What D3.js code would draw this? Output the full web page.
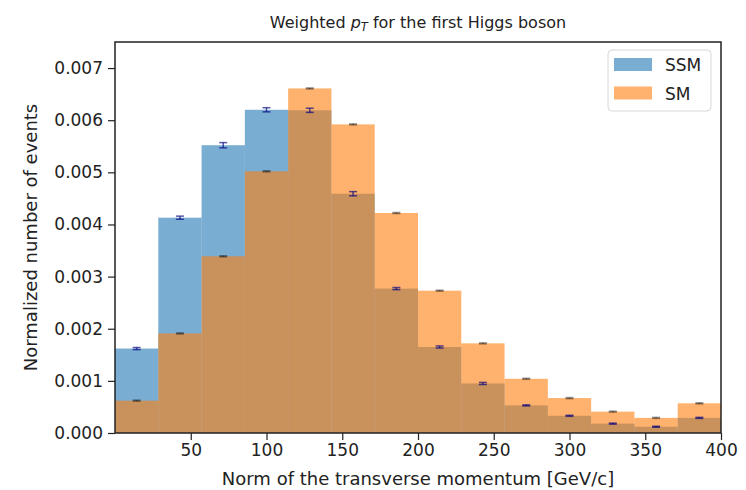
<!DOCTYPE html>
<html>
<head>
<meta charset="utf-8">
<script src="https://cdn.jsdelivr.net/npm/d3@7"></script>
<style>
  body { margin: 0; background: #fff; }
  svg text { font-family: "DejaVu Sans", sans-serif; fill: #222; }
</style>
</head>
<body>
<div></div>
<script>
// 14 bins between 0 and 400
var binEdges = d3.range(15).map(function (i) { return i * 400 / 14; });

var ssmValues = [0.00162, 0.00413, 0.00552, 0.00620, 0.00619, 0.00459, 0.00277,
                 0.00165, 0.00095, 0.00053, 0.00033, 0.00018, 0.00012, 0.00029];
var ssmErrors = [0.00002, 0.00003, 0.00005, 0.00004, 0.00004, 0.00004, 0.00002,
                 0.00002, 0.00002, 0.00001, 0.00001, 0.00001, 0.00001, 0.00001];

var smValues = [0.00062, 0.00191, 0.00339, 0.00502, 0.00661, 0.00592, 0.00422,
                0.00273, 0.00172, 0.00104, 0.00067, 0.00041, 0.00029, 0.00057];
var smErrors = [0.00001, 0.00001, 0.00001, 0.00001, 0.00001, 0.00001, 0.00001,
                0.00001, 0.00001, 0.00001, 0.00001, 0.00001, 0.00001, 0.00001];

var xTicks = [50, 100, 150, 200, 250, 300, 350, 400];
var yTicks = [0, 0.001, 0.002, 0.003, 0.004, 0.005, 0.006, 0.007];

var width = 746, height = 490,
	margin = {left: 115, right: 25, top: 42, bottom: 57};

var svgContainer = d3.select("div")
	.append("svg")
	.attr("width", width)
	.attr("height", height);

var x = d3.scaleLinear().domain([0, 400]).range([margin.left, width - margin.right]);
var y = d3.scaleLinear().domain([0, 0.0075]).range([height - margin.bottom, margin.top]);

function drawHist(values, color) {
	svgContainer.append("g")
	.selectAll("rect")
	.data(values)
	.enter()
	.append("rect")
	.attr("x", function (d, i) { return x(binEdges[i]); })
	.attr("width", function (d, i) { return x(binEdges[i + 1]) - x(binEdges[i]); })
	.attr("y", function (d) { return y(d); })
	.attr("height", function (d) { return y(0) - y(d); })
	.attr("fill", color)
	.attr("fill-opacity", 0.6);
}

function drawErrors(values, errors, color, opacity) {
	var g = svgContainer.append("g")
	.attr("stroke", color)
	.attr("stroke-opacity", opacity)
	.attr("stroke-width", 1.5);
	values.forEach(function (v, i) {
		var cx = x((binEdges[i] + binEdges[i + 1]) / 2),
			top = y(v + errors[i]),
			bottom = y(v - errors[i]);
		var e = g.append("g");
		e.append("line").attr("x1", cx).attr("x2", cx).attr("y1", top).attr("y2", bottom);
		e.append("line").attr("x1", cx - 4).attr("x2", cx + 4).attr("y1", top).attr("y2", top);
		e.append("line").attr("x1", cx - 4).attr("x2", cx + 4).attr("y1", bottom).attr("y2", bottom);
	});
}

drawHist(ssmValues, "#1f77b4");
drawHist(smValues, "#ff7f0e");
drawErrors(ssmValues, ssmErrors, "#000080", 0.65);
drawErrors(smValues, smErrors, "#000000", 0.4);

// axes
var xAxis = d3.axisBottom(x).tickValues(xTicks).tickSize(7).tickPadding(4).tickFormat(d3.format("d"));
var yAxis = d3.axisLeft(y).tickValues(yTicks).tickSize(7).tickPadding(5).tickFormat(d3.format(".3f"));

var xAxisGroup = svgContainer.append("g")
	.attr("transform", "translate(0," + (height - margin.bottom) + ")")
	.call(xAxis);
var yAxisGroup = svgContainer.append("g")
	.attr("transform", "translate(" + margin.left + ",0)")
	.call(yAxis);

[xAxisGroup, yAxisGroup].forEach(function (g) {
	g.select(".domain").remove();
	g.selectAll(".tick line").attr("stroke", "#222").attr("stroke-width", 1.2);
	g.selectAll(".tick text").attr("font-size", 17).attr("font-family", "DejaVu Sans").attr("fill", "#222");
});

// frame
svgContainer.append("rect")
	.attr("x", x(0))
	.attr("y", y(0.0075))
	.attr("width", x(400) - x(0))
	.attr("height", y(0) - y(0.0075))
	.attr("fill", "none")
	.attr("stroke", "#222")
	.attr("stroke-width", 1.5);

// title
var title = svgContainer.append("text")
	.attr("x", (x(0) + x(400)) / 2)
	.attr("y", 28)
	.attr("text-anchor", "middle")
	.attr("font-size", 16);
title.append("tspan").text("Weighted ");
title.append("tspan").attr("font-style", "italic").text("p");
title.append("tspan").attr("font-style", "italic").attr("font-size", 11.5).attr("dy", 3).text("T");
title.append("tspan").attr("dy", -3).text(" for the first Higgs boson");

// axis labels
svgContainer.append("text")
	.attr("x", (x(0) + x(400)) / 2)
	.attr("y", 485)
	.attr("text-anchor", "middle")
	.attr("font-size", 18)
	.text("Norm of the transverse momentum [GeV/c]");

svgContainer.append("text")
	.attr("transform", "translate(37," + ((y(0) + y(0.0075)) / 2) + ") rotate(-90)")
	.attr("text-anchor", "middle")
	.attr("font-size", 18)
	.text("Normalized number of events");

// legend
var legendNames = ["SSM", "SM"],
	legendColors = ["#1f77b4", "#ff7f0e"];

var legend = svgContainer.append("g").attr("transform", "translate(608,50)");
legend.append("rect")
	.attr("width", 103).attr("height", 61)
	.attr("rx", 4)
	.attr("fill", "#fff").attr("fill-opacity", 0.8)
	.attr("stroke", "#d8d8d8");
legendNames.forEach(function (name, i) {
	legend.append("rect")
		.attr("x", 6).attr("y", 8 + i * 28.5)
		.attr("width", 38).attr("height", 13)
		.attr("fill", legendColors[i]).attr("fill-opacity", 0.6);
	legend.append("text")
		.attr("x", 57).attr("y", 21 + i * 28.5)
		.attr("font-size", 17)
		.text(name);
});
</script>
</body>
</html>
